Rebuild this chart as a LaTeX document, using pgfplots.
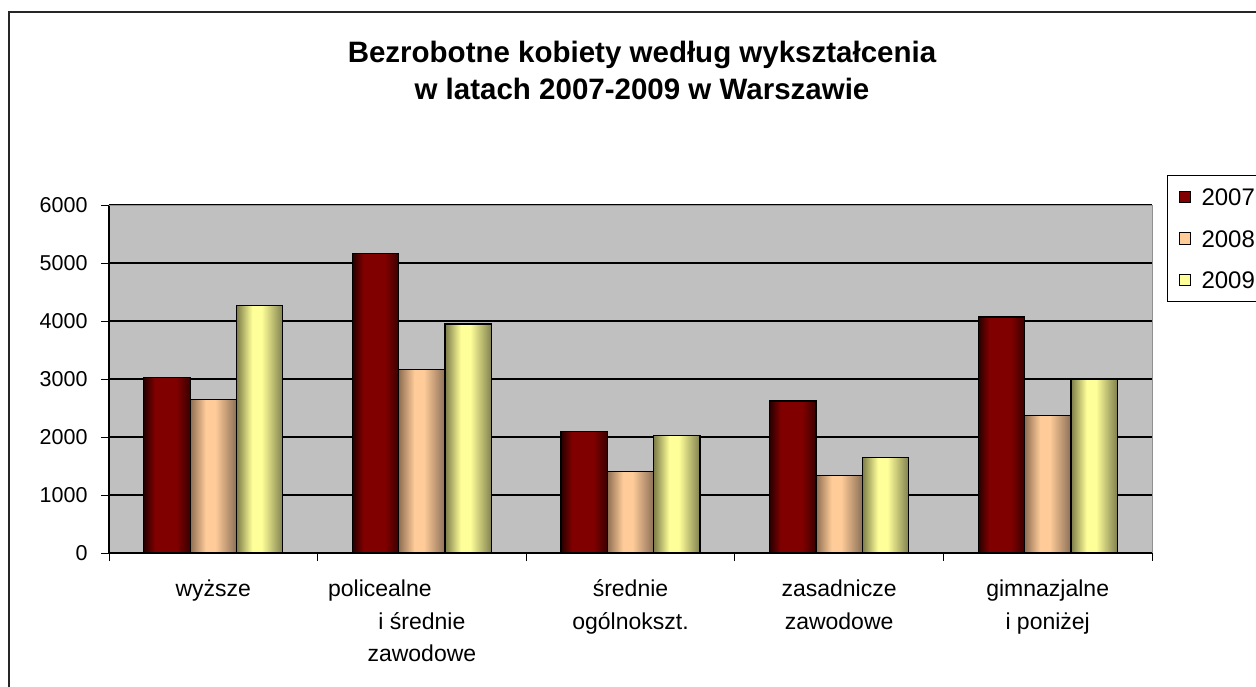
\documentclass[border=0pt]{standalone}
\usepackage{pgfplots}
\pgfplotsset{compat=1.18}
\usepackage{fontspec}
\setmainfont{Liberation Sans}

\definecolor{plotbg}{HTML}{C0C0C0}
\definecolor{frame}{HTML}{909090}
\definecolor{c07}{HTML}{800000}
\definecolor{c07l}{HTML}{260000}
\definecolor{c07r}{HTML}{3A0000}
\definecolor{c08}{HTML}{FFCC99}
\definecolor{c08l}{HTML}{8E6E52}
\definecolor{c08r}{HTML}{8C7058}
\definecolor{c09}{HTML}{FFFF99}
\definecolor{c09l}{HTML}{7C7C48}
\definecolor{c09r}{HTML}{808050}

% cylinder-like horizontal gradients (bar spans 25bp..75bp)
\pgfdeclarehorizontalshading{sh07}{100bp}{color(0bp)=(c07l); color(25bp)=(c07l); color(37bp)=(c07); color(60bp)=(c07); color(75bp)=(c07r); color(100bp)=(c07r)}
\pgfdeclarehorizontalshading{sh08}{100bp}{color(0bp)=(c08l); color(25bp)=(c08l); color(42bp)=(c08); color(52bp)=(c08); color(75bp)=(c08r); color(100bp)=(c08r)}
\pgfdeclarehorizontalshading{sh09}{100bp}{color(0bp)=(c09l); color(25bp)=(c09l); color(42bp)=(c09); color(52bp)=(c09); color(75bp)=(c09r); color(100bp)=(c09r)}

\pgfplotsset{
    b07/.style={draw=black, line width=1.2bp, shade, shading=sh07, bar shift=-0.2224, forget plot},
    b08/.style={draw=black, line width=1.2bp, shade, shading=sh08, bar shift=0, forget plot},
    b09/.style={draw=black, line width=1.2bp, shade, shading=sh09, bar shift=0.2224, forget plot},
    sq/.style={legend image code/.code={\draw[fill=#1, draw=black, line width=1bp] (0bp,-5.75bp) rectangle (11.5bp,5.75bp); \path (22bp,0bp);}},
}
% category label: baseline of the box = baseline of its first line
\newcommand{\lab}[1]{\begin{tabular}[t]{@{}c@{}}#1\end{tabular}}

\begin{document}
\begin{tikzpicture}
% outer chart frame (cut off at right and bottom)
\draw[line width=2bp, black!85] (9bp,-720bp) -- (9bp,-12bp) -- (1290bp,-12bp);

\begin{axis}[
    at={(109bp,-553bp)}, anchor=south west,
    width=1043bp, height=348bp, scale only axis,
    xmin=-0.5, xmax=4.5, ymin=0, ymax=6000,
    axis background/.style={fill=plotbg, draw=frame, line width=1bp},
    axis x line*=bottom, axis y line*=left,
    axis line style={black, line width=1.2bp, -},
    tick align=outside,
    major tick length=8bp,
    tick style={black, line width=1bp},
    xtick={-0.5,0.5,1.5,2.5,3.5,4.5},
    xticklabels={},
    extra x ticks={0,1,2,3,4},
    extra x tick labels={\lab{wyższe}, \lab{policealne\hspace*{84bp}\\i średnie\\zawodowe}, \lab{średnie\\ogólnokszt.}, \lab{zasadnicze\\zawodowe}, \lab{gimnazjalne\\i poniżej}},
    extra x tick style={major tick length=0pt, grid=none},
    xticklabel style={font=\fontsize{23bp}{32.3bp}\selectfont, anchor=base, inner sep=0pt, yshift=-43.7bp},
    ytick={0,1000,2000,3000,4000,5000,6000},
    ymajorgrids,
    major grid style={black, line width=1.1bp},
    yticklabel style={font=\fontsize{21.5bp}{26bp}\selectfont, anchor=east, xshift=-10bp},
    /pgf/number format/assume math mode=true,
    /pgf/number format/1000 sep={},
    ybar=0pt, bar width=0.2224,
    legend style={at={(1.0144,1.0862)}, anchor=north west, draw=black, line width=1bp, fill=white,
        font=\fontsize{24bp}{28bp}\selectfont, inner xsep=11bp, inner ysep=13bp,
        nodes={inner sep=0pt, text height=17bp, text depth=0bp}, row sep=24.5bp},
    legend cell align=left,
]
% wyższe
\addplot[b07] coordinates {(0,3020)};
\addplot[b08] coordinates {(0,2650)};
\addplot[b09] coordinates {(0,4270)};
% policealne i średnie zawodowe
\addplot[b07] coordinates {(1,5170)};
\addplot[b08] coordinates {(1,3160)};
\addplot[b09] coordinates {(1,3950)};
% średnie ogólnokształcące
\addplot[b07] coordinates {(2,2100)};
\addplot[b08] coordinates {(2,1400)};
\addplot[b09] coordinates {(2,2030)};
% zasadnicze zawodowe
\addplot[b07] coordinates {(3,2620)};
\addplot[b08] coordinates {(3,1340)};
\addplot[b09] coordinates {(3,1650)};
% gimnazjalne i poniżej
\addplot[b07] coordinates {(4,4070)};
\addplot[b08] coordinates {(4,2370)};
\addplot[b09] coordinates {(4,3000)};

\addlegendimage{sq=c07}\addlegendentry{2007}
\addlegendimage{sq=c08}\addlegendentry{2008}
\addlegendimage{sq=c09}\addlegendentry{2009}

\draw[frame, line width=1bp] (rel axis cs:0,1) -- (rel axis cs:1,1);
\end{axis}

\node[anchor=base, font=\fontsize{29.5bp}{34bp}\selectfont\bfseries] at (642bp,-62.7bp) {Bezrobotne kobiety według wykształcenia};
\node[anchor=base, font=\fontsize{29.5bp}{34bp}\selectfont\bfseries] at (642bp,-99bp) {w latach 2007-2009 w Warszawie};

\pgfresetboundingbox
\useasboundingbox (0bp,0bp) rectangle (1256bp,-687bp);
\end{tikzpicture}
\end{document}
